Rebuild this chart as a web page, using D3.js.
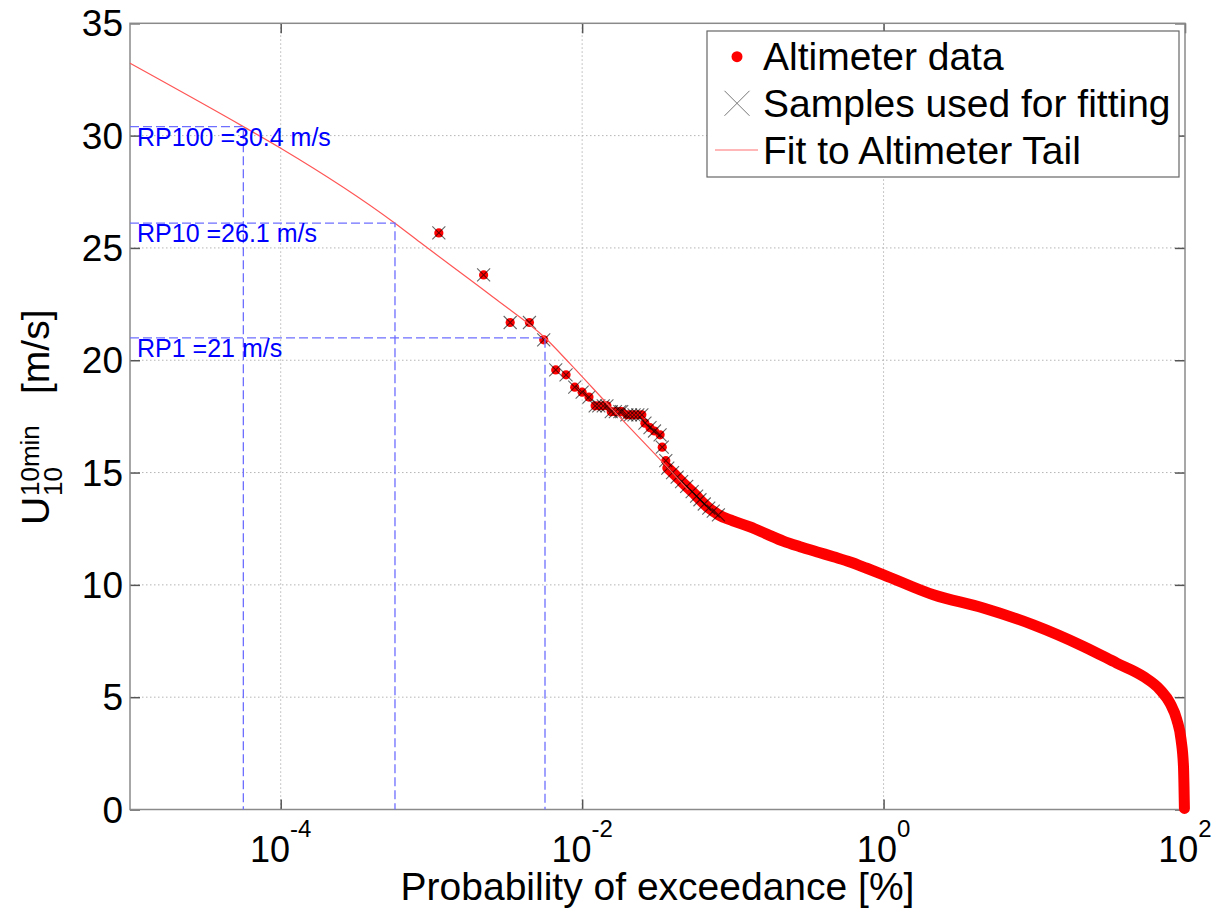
<!DOCTYPE html>
<html>
<head>
<meta charset="utf-8">
<script src="https://cdn.jsdelivr.net/npm/d3@7"></script>
<style>
  body { margin: 0; background: #fff; }
  svg { display: block; }
  text { font-family: "Liberation Sans", Arial, Helvetica, sans-serif; }
</style>
</head>
<body>
<svg id="chart" width="1217" height="910"></svg>
<script>
// tail of the altimeter record (samples used for fitting), exceedance in %
const tailProb = [1.12e-3, 2.22e-3, 3.33e-3, 4.47e-3, 5.56e-3, 6.68e-3, 7.82e-3, 8.93e-3, 1.00e-2, 1.11e-2,
  1.22e-2, 1.29e-2, 1.38e-2, 1.46e-2, 1.56e-2, 1.66e-2, 1.78e-2, 1.83e-2,
  1.98e-2, 2.09e-2, 2.21e-2, 2.34e-2, 2.49e-2, 2.61e-2, 2.82e-2, 3.02e-2, 3.29e-2, 3.40e-2, 3.59e-2,
  3.70e-2, 3.98e-2, 4.27e-2, 4.57e-2, 4.94e-2, 5.37e-2, 5.75e-2, 6.05e-2, 6.46e-2, 6.92e-2, 7.41e-2, 8.02e-2]
const tailSpeed = [25.67, 23.80, 21.68, 21.68, 20.91, 19.57, 19.35, 18.80, 18.58, 18.36,
  17.97, 17.97, 17.97, 17.97, 17.71, 17.71, 17.71, 17.71,
  17.57, 17.57, 17.57, 17.57, 17.57, 17.20, 17.00, 16.85, 16.68, 16.13, 15.53,
  15.20, 15.00, 14.80, 14.60, 14.38, 14.15, 13.95, 13.79, 13.60, 13.42, 13.28, 13.12]

// rest of the altimeter record
const bodyProb = [0.100, 0.130, 0.168, 0.216, 0.279, 0.379, 0.465, 0.600, 0.774, 1.0,
  2.14, 4.59, 9.86, 21.2, 35.2, 53.0, 68.4, 79.6, 88.3, 94.2, 97.7, 99.1]
const bodySpeed = [12.85, 12.58, 12.26, 11.95, 11.70, 11.43, 11.25, 11.02, 10.74, 10.45,
  9.56, 8.97, 8.22, 7.26, 6.52, 5.92, 5.33, 4.73, 3.99, 3.10, 1.91, 0.05]

// fit to the tail
const fitProb = [1e-5, 5.65e-5, 1e-4, 5.73e-4, 8.4e-4, 2.71e-3, 5.67e-3, 8.3e-3, 1.6e-2, 3.66e-2, 5.05e-2]
const fitSpeed = [33.22, 30.4, 29.44, 26.1, 25.25, 22.69, 21.0, 19.85, 17.79, 15.25, 14.23]

// return levels
const rpNames = ['RP100', 'RP10', 'RP1']
const rpSpeed = [30.4, 26.1, 21]
const rpProb = [5.65e-5, 5.73e-4, 5.67e-3]

const xTicks = [1e-4, 1e-2, 1e0, 1e2]
const xTickExp = ['-4', '-2', '0', '2']
const yTicks = [0, 5, 10, 15, 20, 25, 30, 35]
const legendLabels = ['Altimeter data', 'Samples used for fitting', 'Fit to Altimeter Tail']

const plotL = 130, plotR = 1185, plotT = 23.3, plotB = 809.5

const svg = d3.select('#chart')
const x = d3.scaleLog().domain([1e-5, 1e2]).range([plotL, plotR])
const y = d3.scaleLinear().domain([0, 35]).range([plotB, plotT])

// grid
const grid = svg.append('g')
  .attr('stroke', '#b5b5b5').attr('stroke-width', 1).attr('stroke-dasharray', '1.5,2.5')
grid.selectAll('.gx').data(xTicks.slice(0, -1)).enter().append('line')
  .attr('x1', d => x(d)).attr('x2', d => x(d)).attr('y1', plotT).attr('y2', plotB)
grid.selectAll('.gy').data(yTicks.slice(1, -1)).enter().append('line')
  .attr('x1', plotL).attr('x2', plotR).attr('y1', d => y(d)).attr('y2', d => y(d))

// ticks (inward) on all four sides
function styleAxis(g) {
  g.select('.domain').remove()
  g.selectAll('.tick line').attr('stroke', '#555').attr('stroke-width', 1.5)
  g.selectAll('.tick text').remove()
}
svg.append('g').attr('transform', `translate(0,${plotB})`)
  .call(d3.axisBottom(x).tickValues(xTicks).tickSize(-10)).call(styleAxis)
svg.append('g').attr('transform', `translate(0,${plotT})`)
  .call(d3.axisTop(x).tickValues(xTicks).tickSize(-10)).call(styleAxis)
svg.append('g').attr('transform', `translate(${plotL},0)`)
  .call(d3.axisLeft(y).tickValues(yTicks).tickSize(-10)).call(styleAxis)
svg.append('g').attr('transform', `translate(${plotR},0)`)
  .call(d3.axisRight(y).tickValues(yTicks).tickSize(-10)).call(styleAxis)

// frame
svg.append('rect')
  .attr('x', plotL).attr('y', plotT).attr('width', plotR - plotL).attr('height', plotB - plotT)
  .attr('fill', 'none').attr('stroke', '#8a8a8a').attr('stroke-width', 1.5)

// tick labels
svg.append('g').selectAll('text').data(yTicks).enter().append('text')
  .attr('x', plotL - 7).attr('y', d => y(d) + 13)
  .attr('text-anchor', 'end').attr('font-size', 37).text(d => d)

const xl = svg.append('g').selectAll('text').data(xTicks).enter().append('text')
  .attr('x', d => x(d)).attr('y', 862)
  .attr('text-anchor', 'middle').attr('font-size', 36)
xl.append('tspan').text('10')
xl.append('tspan').attr('font-size', 24).attr('dy', -25).text((d, i) => xTickExp[i])

// axis titles
svg.append('text').attr('x', (plotL + plotR) / 2).attr('y', 900)
  .attr('text-anchor', 'middle').attr('font-size', 39)
  .text('Probability of exceedance [%]')

const yt = svg.append('g').attr('transform', 'translate(49,0) rotate(-90)')
yt.append('text').attr('x', -525).attr('y', 0).attr('font-size', 39).text('U')
yt.append('text').attr('x', -496).attr('y', -10).attr('font-size', 26).text('10min')
yt.append('text').attr('x', -496).attr('y', 13).attr('font-size', 26).text('10')
yt.append('text').attr('x', -394).attr('y', 0).attr('font-size', 39).text('[m/s]')

// altimeter data
const stripProb = tailProb.filter(p => p >= 0.037).concat(bodyProb)
const stripSpeed = tailSpeed.filter((s, i) => tailProb[i] >= 0.037).concat(bodySpeed)
const allProb = tailProb.concat(bodyProb)
const allSpeed = tailSpeed.concat(bodySpeed)

const line = d3.line().x(d => x(d[0])).y(d => y(d[1])).curve(d3.curveMonotoneX)
svg.append('path')
  .attr('d', line(d3.zip(stripProb, stripSpeed)))
  .attr('fill', 'none').attr('stroke', '#ff0000').attr('stroke-width', 11)
  .attr('stroke-linecap', 'round').attr('stroke-linejoin', 'round')

svg.append('g').selectAll('circle').data(d3.zip(allProb, allSpeed)).enter().append('circle')
  .attr('cx', d => x(d[0])).attr('cy', d => y(d[1])).attr('r', 4.6).attr('fill', '#ff0000')

// samples used for fitting
const cross = 'M-6.5,-6.5L6.5,6.5M-6.5,6.5L6.5,-6.5'
svg.append('g').selectAll('path').data(d3.zip(tailProb, tailSpeed)).enter().append('path')
  .attr('transform', d => `translate(${x(d[0])},${y(d[1])})`)
  .attr('d', cross).attr('fill', 'none').attr('stroke', '#000').attr('stroke-opacity', 0.6).attr('stroke-width', 1.1)

// fit
svg.append('path')
  .attr('d', line(d3.zip(fitProb, fitSpeed)))
  .attr('fill', 'none').attr('stroke', '#ff5555').attr('stroke-width', 1.2)

// return period guides
const rp = svg.append('g')
rp.selectAll('path').data(rpSpeed).enter().append('path')
  .attr('d', (d, i) => `M${plotL},${y(d)}H${x(rpProb[i])}V${plotB}`)
  .attr('fill', 'none').attr('stroke', '#6e6eff').attr('stroke-width', 1.3).attr('stroke-dasharray', '9,4')
rp.selectAll('text').data(rpSpeed).enter().append('text')
  .attr('x', 137).attr('y', d => y(d) + 19)
  .attr('font-size', 25).attr('fill', '#0000ff')
  .text((d, i) => `${rpNames[i]} =${d} m/s`)

// legend
const lg = svg.append('g')
lg.append('rect').attr('x', 707).attr('y', 31).attr('width', 472).attr('height', 146)
  .attr('fill', '#fff').attr('stroke', '#666').attr('stroke-width', 1.2)
const rowY = [56.7, 103.3, 150]
lg.append('circle').attr('cx', 737).attr('cy', rowY[0]).attr('r', 5.5).attr('fill', '#ff0000')
lg.append('path').attr('transform', `translate(737,${rowY[1]})`)
  .attr('d', 'M-12.5,-12.5L12.5,12.5M-12.5,12.5L12.5,-12.5')
  .attr('stroke', '#777').attr('stroke-width', 1)
lg.append('line').attr('x1', 715).attr('x2', 758).attr('y1', rowY[2]).attr('y2', rowY[2])
  .attr('stroke', '#ff7070').attr('stroke-width', 1.2)
lg.selectAll('text').data(legendLabels).enter().append('text')
  .attr('x', 763).attr('y', (d, i) => rowY[i] + 13.5)
  .attr('font-size', 39).text(d => d)
</script>
</body>
</html>
